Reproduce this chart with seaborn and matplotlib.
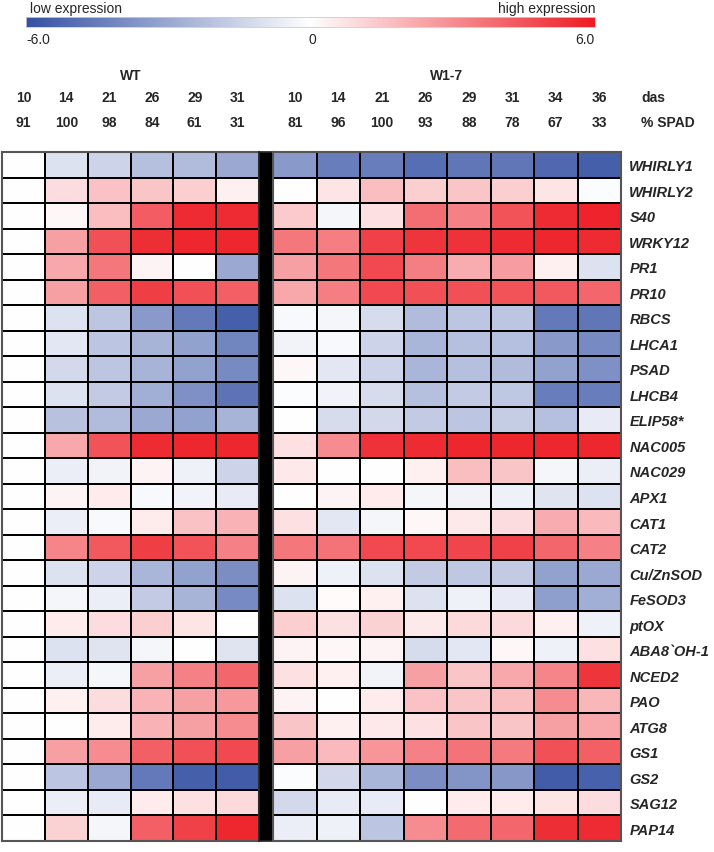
import numpy as np
import pandas as pd
import matplotlib
matplotlib.use('Agg')
import matplotlib.pyplot as plt
import matplotlib.transforms as mtransforms
from matplotlib.colors import LinearSegmentedColormap
import seaborn as sns

# Datos del heatmap (log2 fold change respecto a 10 das)
genes = ['WHIRLY1', 'WHIRLY2', 'S40', 'WRKY12', 'PR1', 'PR10', 'RBCS', 'LHCA1',
         'PSAD', 'LHCB4', 'ELIP58*', 'NAC005', 'NAC029', 'APX1', 'CAT1', 'CAT2',
         'Cu/ZnSOD', 'FeSOD3', 'ptOX', 'ABA8`OH-1', 'NCED2', 'PAO', 'ATG8', 'GS1',
         'GS2', 'SAG12', 'PAP14']

wt_das = [10, 14, 21, 26, 29, 31]
wt_spad = [91, 100, 98, 84, 61, 31]
w17_das = [10, 14, 21, 26, 29, 31, 34, 36]
w17_spad = [81, 96, 100, 93, 88, 78, 67, 33]

wt_values = [
    [0, -1.0, -1.5, -2.2, -2.3, -3.0],
    [0, 0.9, 1.6, 1.5, 1.3, 0.4],
    [0, 0.2, 1.7, 4.3, 5.6, 5.6],
    [0, 2.5, 4.6, 5.5, 5.7, 5.7],
    [0, 2.3, 3.6, 0.3, 0, -3.0],
    [0, 2.5, 4.2, 5.1, 4.6, 4.2],
    [0, -1.0, -2.0, -3.5, -4.6, -5.5],
    [0, -0.8, -2.0, -2.6, -3.2, -4.2],
    [0, -1.3, -2.0, -2.6, -3.2, -4.0],
    [0, -1.0, -1.8, -2.8, -3.8, -4.8],
    [0, -2.1, -2.3, -3.0, -3.2, -2.6],
    [0, 2.3, 4.5, 5.6, 5.7, 5.7],
    [0, -0.6, -0.4, 0.3, -0.5, -1.5],
    [0, 0.3, 0.5, -0.2, -0.4, -0.7],
    [0, -0.6, -0.2, 0.5, 1.6, 2.0],
    [0, 3.2, 4.4, 5.1, 4.5, 3.3],
    [0, -1.0, -1.5, -2.5, -3.2, -3.9],
    [0, -0.3, -0.6, -1.8, -2.6, -4.0],
    [0, 0.5, 0.9, 1.3, 0.7, 0],
    [0, -1.0, -0.9, -0.3, 0, -0.9],
    [0, -0.6, -0.3, 2.5, 3.3, 4.0],
    [0, 0.4, 0.9, 2.0, 2.5, 2.7],
    [0, 0, 0.5, 2.0, 2.5, 3.0],
    [0, 2.5, 3.0, 4.2, 4.6, 4.8],
    [0, -2.0, -3.0, -4.6, -5.5, -5.6],
    [0, -0.6, -0.7, 0.5, 0.8, 1.0],
    [0, 1.2, -0.3, 4.2, 5.0, 5.7],
]

w17_values = [
    [-3.5, -4.5, -4.5, -5.0, -4.7, -4.7, -5.2, -5.5],
    [0, 0.7, 1.7, 1.3, 1.5, 1.3, 0.7, -0.1],
    [1.4, -0.3, 0.8, 3.8, 3.3, 4.5, 5.6, 5.8],
    [3.6, 3.4, 5.0, 5.3, 5.4, 5.6, 5.7, 5.6],
    [2.5, 3.6, 4.8, 3.4, 2.2, 2.6, 0.4, -1.0],
    [2.3, 3.4, 4.8, 4.6, 4.6, 4.5, 4.4, 4.0],
    [-0.2, -0.3, -1.2, -2.3, -2.0, -2.0, -4.6, -4.7],
    [-0.4, -0.2, -1.5, -2.5, -2.2, -2.2, -3.5, -4.0],
    [0.2, -0.8, -1.5, -2.5, -2.2, -2.3, -3.2, -3.8],
    [-0.1, -0.4, -1.2, -2.2, -1.8, -1.9, -4.5, -4.5],
    [0, -1.2, -1.3, -1.8, -2.0, -1.7, -2.2, -0.7],
    [0.8, 3.0, 5.4, 5.6, 5.7, 5.7, 5.7, 5.7],
    [0.6, 0, 0, 0.4, 1.7, 1.5, -0.3, -0.6],
    [0, 0.3, 0.5, -0.3, -0.4, -0.5, -0.9, -1.0],
    [0.8, -0.8, -0.3, 0.2, 0.6, 0.9, 2.2, 1.8],
    [3.6, 3.7, 4.8, 4.8, 4.9, 5.0, 4.0, 3.3],
    [0.3, -0.5, -1.0, -1.8, -1.9, -1.8, -3.2, -3.0],
    [-1.0, 0.1, 0.4, -1.0, -0.5, -0.7, -3.3, -2.8],
    [1.3, 0.8, 1.2, 0.6, 1.0, 1.0, 0.4, -0.5],
    [0.3, 0.2, 0.3, -1.2, -0.8, 0.2, -0.5, 0.8],
    [0.8, 0.4, -0.4, 2.5, 1.5, 2.3, 3.2, 5.3],
    [0.3, 0, 0.5, 1.6, 1.5, 1.7, 3.0, 1.9],
    [1.5, 0.4, 0.6, 0.8, 1.5, 1.5, 2.5, 2.3],
    [2.5, 1.8, 2.8, 3.3, 3.7, 3.5, 4.6, 4.2],
    [-0.1, -1.3, -2.5, -3.9, -3.7, -3.6, -5.6, -5.4],
    [-1.3, -0.7, -0.7, 0, 0.5, 0.5, 0.7, 0.9],
    [-0.6, -0.5, -2.0, 3.0, 3.9, 4.0, 5.5, 5.6],
]

W, H = 714, 853


def px_axes(fig, x0, y0, x1, y1):
    # Crear ejes a partir de coordenadas en píxeles (origen arriba-izquierda)
    return fig.add_axes([x0 / W, 1 - y1 / H, (x1 - x0) / W, (y1 - y0) / H])


def main() -> None:
    sns.set_theme(style='white')
    plt.rcParams['font.family'] = ['Liberation Sans', 'DejaVu Sans']

    cmap = LinearSegmentedColormap.from_list('bwr_fig', ['#3551A4', '#FFFFFF', '#ED1C24'])

    df_wt = pd.DataFrame(wt_values, index=genes, columns=wt_das)
    df_w17 = pd.DataFrame(w17_values, index=genes, columns=w17_das)

    fig = plt.figure(figsize=(W / 100, H / 100), dpi=100)

    top, bottom = 153, 842
    ax_wt = px_axes(fig, 2, top, 259, bottom)
    ax_sep = px_axes(fig, 259, top, 273, bottom)
    ax_w17 = px_axes(fig, 273, top, 621, bottom)

    kw = dict(cmap=cmap, vmin=-6, vmax=6, linewidths=1.3, linecolor='black',
              cbar=False, xticklabels=False)
    sns.heatmap(df_wt, ax=ax_wt, yticklabels=False, **kw)
    sns.heatmap(df_w17, ax=ax_w17, yticklabels=True, **kw)

    for ax in (ax_wt, ax_w17):
        for s in ax.spines.values():
            s.set_visible(True)
            s.set_color('#555555')
            s.set_linewidth(1.5)
        ax.set_xlabel('')
        ax.set_ylabel('')

    ax_sep.set_facecolor('black')
    ax_sep.set_xticks([])
    ax_sep.set_yticks([])

    # Etiquetas de genes a la derecha
    ax_w17.yaxis.tick_right()
    ax_w17.tick_params(axis='y', length=0, pad=6)
    for t in ax_w17.get_yticklabels():
        t.set_rotation(0)
        t.set_fontsize(10.5)
        t.set_fontweight('bold')
        t.set_fontstyle('italic')
        t.set_ha('left')

    # Encabezados de columnas (das y % SPAD)
    y_grp = 1 - 76 / H
    y_das = 1 - 98 / H
    y_spad = 1 - 123 / H
    for ax, das, spad, name in ((ax_wt, wt_das, wt_spad, 'WT'),
                                (ax_w17, w17_das, w17_spad, 'W1-7')):
        tr = mtransforms.blended_transform_factory(ax.transData, fig.transFigure)
        ax.text(len(das) / 2, y_grp, name, transform=tr, ha='center', va='center',
                fontsize=10, fontweight='bold')
        for i, (d, s) in enumerate(zip(das, spad)):
            ax.text(i + 0.5, y_das, str(d), transform=tr, ha='center', va='center',
                    fontsize=10, fontweight='bold')
            ax.text(i + 0.5, y_spad, str(s), transform=tr, ha='center', va='center',
                    fontsize=10, fontweight='bold')
    fig.text(641 / W, y_das, 'das', ha='left', va='center', fontsize=10, fontweight='bold')
    fig.text(641 / W, y_spad, '% SPAD', ha='left', va='center', fontsize=10, fontweight='bold')

    # Barra de color
    cax = px_axes(fig, 26, 18, 595, 28)
    grad = np.linspace(-6, 6, 256).reshape(1, -1)
    cax.imshow(grad, aspect='auto', cmap=cmap, vmin=-6, vmax=6, extent=[-6, 6, 0, 1])
    cax.set_xticks([])
    cax.set_yticks([])
    for s in cax.spines.values():
        s.set_color('#cccccc')
        s.set_linewidth(0.6)
    fig.text(30 / W, 1 - 9 / H, 'low expression', ha='left', va='center', fontsize=10)
    fig.text(595 / W, 1 - 9 / H, 'high expression', ha='right', va='center', fontsize=10)
    fig.text(26 / W, 1 - 40 / H, '-6.0', ha='left', va='center', fontsize=10)
    fig.text(312 / W, 1 - 40 / H, '0', ha='center', va='center', fontsize=10)
    fig.text(595 / W, 1 - 40 / H, '6.0', ha='right', va='center', fontsize=10)

    fig.savefig('out.png', dpi=100, facecolor='white')
    plt.close(fig)


if __name__ == '__main__':
    main()
